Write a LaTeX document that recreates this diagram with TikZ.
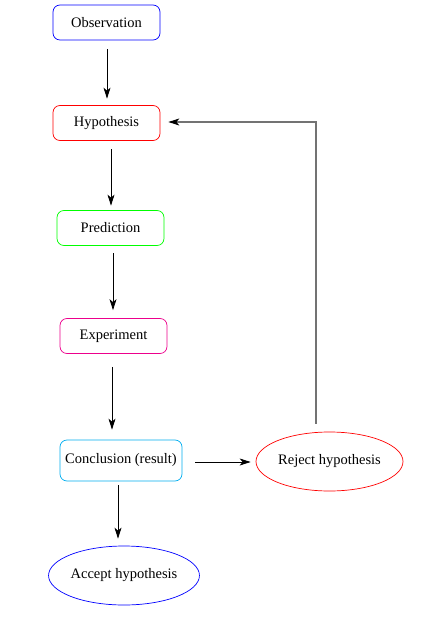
\documentclass[tikz,border=0pt]{standalone}
\usepackage{fontspec}
\setmainfont{Liberation Serif}
\usetikzlibrary{arrows.meta,shapes.geometric}
\begin{document}
\begin{tikzpicture}[x=1pt,y=-1pt,
  box/.style={draw, rounded corners=7pt, line width=0.7pt, minimum width=107pt, minimum height=35pt, inner sep=0pt, font=\fontsize{14.5}{16}\selectfont},
  oval/.style={draw, ellipse, line width=0.7pt, minimum width=147pt, minimum height=59pt, inner sep=0pt, font=\fontsize{14.5}{16}\selectfont},
  arr/.style={-{Stealth[length=11pt,width=7pt,inset=3pt]}, line width=0.8pt}]
\useasboundingbox (0,0) rectangle (426,617);
\node[box, draw=blue] (obs) at (106.5,22.5) {Observation};
\node[box, draw=red] (hyp) at (106.5,123) {Hypothesis};
\node[box, draw=green] (pred) at (110.5,228) {Prediction};
\node[box, draw=magenta] (exp) at (113.5,336) {Experiment};
\node[box, draw=cyan, minimum width=122pt, minimum height=41pt] (con) at (121,460.5) {Conclusion (result)};
\node[oval, draw=red] (rej) at (329.5,461.5) {Reject hypothesis};
\node[oval, draw=blue, minimum width=148pt] (acc) at (124,575.5) {Accept hypothesis};
\coordinate (c1) at ([xshift=-13.5pt,yshift=8pt]rej.north);
\coordinate (c2) at ([xshift=8pt,yshift=1pt]hyp.east);
\draw[arr] ([xshift=0.5pt,yshift=-9pt]obs.south) -- ([xshift=0.5pt,yshift=6.5pt]hyp.north);
\draw[arr] ([xshift=4.5pt,yshift=-8.5pt]hyp.south) -- ([xshift=0.5pt,yshift=4.5pt]pred.north);
\draw[arr] ([xshift=2.5pt,yshift=-7.5pt]pred.south) -- ([xshift=-0.5pt,yshift=8pt]exp.north);
\draw[arr] ([xshift=-1.5pt,yshift=-13pt]exp.south) -- ([xshift=-9pt,yshift=10pt]con.north);
\draw[arr] ([xshift=-3pt,yshift=-4pt]con.south) -- ([xshift=-6pt,yshift=7pt]acc.north);
\draw[arr] ([xshift=13pt,yshift=-1.5pt]con.east) -- ([xshift=-5pt,yshift=-0.5pt]rej.west);
\draw[-{Stealth[length=11pt,width=7pt,inset=3pt,black]}, line width=1.1pt, draw=black!55] (c1) |- (c2);
\end{tikzpicture}
\end{document}
